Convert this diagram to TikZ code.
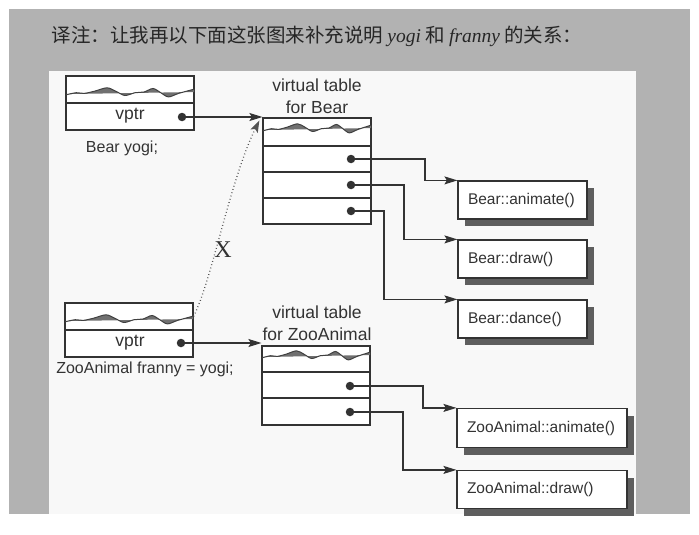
\documentclass[tikz,border=0pt]{standalone}
\usepackage{fontspec}
\setmainfont{Liberation Sans}
\newfontfamily\cjk{Noto Sans CJK SC}
\newfontfamily\tmsserif{Liberation Serif}
\usetikzlibrary{arrows.meta,shadows,calc}
\definecolor{bggray}{HTML}{B2B2B2}
\definecolor{panelc}{HTML}{F8F8F8}
\definecolor{linec}{HTML}{333333}
\definecolor{shadowc}{HTML}{5E5E5E}
\definecolor{wavec}{HTML}{404040}
\newcommand\mywave[3]{%
\begin{scope}[shift={(#1,#2)},xscale=#3/100,yscale=1.4]
 \fill[wavec!75] plot[smooth] coordinates {(0,2)(8,0.5)(14,1)(22,-0.5)(32,-3)(39,-0.5)(46,2.5)(54,0.5)(61,0)(68,-2.5)(74,0.5)(80,3.5)(88,1)(100,-2)} -- (100,0) -- (0,1.5) -- cycle;
 \draw[wavec,line width=1pt] plot[smooth] coordinates {(0,2)(8,0.5)(14,1)(22,-0.5)(32,-3)(39,-0.5)(46,2.5)(54,0.5)(61,0)(68,-2.5)(74,0.5)(80,3.5)(88,1)(100,-2)};
\end{scope}}
\begin{document}
\begin{tikzpicture}[x=1pt,y=-1pt,
  every node/.style={text=linec},
  objbox/.style={draw=linec,line width=1.2pt,fill=white,minimum width=128pt,minimum height=54pt,inner sep=0pt},
  vtbox/.style={draw=linec,line width=1.2pt,fill=white,minimum width=108pt,inner sep=0pt},
  fnbox/.style={draw=linec,line width=1.2pt,fill=white,inner xsep=10pt,inner ysep=0pt,
     align=left,font=\fontsize{15.5}{18}\selectfont,
     general shadow={fill=shadowc,shadow xshift=7pt,shadow yshift=-7pt}},
  dot/.style={circle,fill=linec,minimum size=8.5pt,inner sep=0pt},
  vttitle/.style={align=center,font=\fontsize{17.5}{22}\selectfont},
  lbl/.style={font=\fontsize{16}{19}\selectfont},
  conn/.style={draw=linec,line width=1.2pt,-{Stealth[length=13pt,width=8pt,inset=2.5pt]}},
  dotarr/.style={draw=linec!85,line width=1.3pt,dash pattern=on 0.8pt off 2.6pt,-{Stealth[length=12pt,width=8pt,inset=2.5pt]}}
]
\useasboundingbox (0,0) rectangle (699,535);
\fill[white] (0,0) rectangle (699,535);
\fill[bggray] (9,9) rectangle (690,514);
\fill[panelc] (49,71) rectangle (636,514);

% title
\node[anchor=west,text=black!85,font=\fontsize{19.5}{22}\selectfont] (title) at (48,36)
  {\cjk 译注：让我再以下面这张图来补充说明 {\tmsserif\itshape yogi} 和 {\tmsserif\itshape franny} 的关系：};

% yogi object
\node[objbox] (yogi) at (130,103) {};
\draw[linec,line width=1.2pt] (yogi.west) -- (yogi.east);
\mywave{66}{92}{128}
\node[font=\fontsize{17.5}{20}\selectfont] (yv) at (130,116) {vptr};
\node[dot] (yd) at (182,117) {};
\node[lbl] (ly) at (122,148) {Bear yogi;};

% vtable for Bear
\node[vttitle] (tB) at (317,96) {virtual table\\for Bear};
\node[vtbox,minimum height=106pt] (vtB) at (317,171) {};
\draw[linec,line width=1.2pt] (263,146) -- (371,146) (263,172) -- (371,172) (263,198) -- (371,198);
\mywave{263}{128}{108}
\node[dot] (bd1) at (351,159) {};
\node[dot] (bd2) at (351,185) {};
\node[dot] (bd3) at (351,211) {};

% Bear functions
\node[fnbox,text width=109pt,minimum height=38pt] (bA) at (522.5,200) {Bear::animate()};
\node[fnbox,text width=109pt,minimum height=38pt] (bD) at (522.5,259) {Bear::draw()};
\node[fnbox,text width=109pt,minimum height=38pt] (bN) at (522.5,319) {Bear::dance()};

% franny object
\node[objbox] (fr) at (129,330) {};
\draw[linec,line width=1.2pt] (fr.west) -- (fr.east);
\mywave{65}{319}{128}
\node[font=\fontsize{17.5}{20}\selectfont] (fv) at (130,343) {vptr};
\node[dot] (fd) at (181,343) {};
\node[lbl] (lf) at (145,369) {ZooAnimal franny = yogi;};

% vtable for ZooAnimal
\node[vttitle] (tZ) at (317,323) {virtual table\\for ZooAnimal};
\node[vtbox,minimum height=79pt] (vtZ) at (316,385.5) {};
\draw[linec,line width=1.2pt] (262,372) -- (370,372) (262,398) -- (370,398);
\mywave{262}{355}{108}
\node[dot] (zd1) at (350,386) {};
\node[dot] (zd2) at (350,412) {};

% ZooAnimal functions
\node[fnbox,text width=150pt,minimum height=39pt] (zA) at (542,428) {ZooAnimal::animate()};
\node[fnbox,text width=150pt,minimum height=38pt] (zD) at (542,489.5) {ZooAnimal::draw()};

% connectors
\draw[conn] (yd.center) -- (yd.center -| vtB.west);
\draw[conn] (fd.center) -- (fd.center -| vtZ.west);
\draw[conn] (bd1.center) -- ++(74,0) |- (bA.north west);
\draw[conn] (bd2.center) -- ++(53,0) |- (bD.north west);
\draw[conn] (bd3.center) -- ++(33,0) |- (bN.north west);
\draw[conn] (zd1.center) -- ++(73,0) |- (zA.north west);
\draw[conn] (zd2.center) -- ++(53,0) |- (zD.north west);

% dotted assignment arrow
\draw[dotarr] ([yshift=-14pt]fr.north east) .. controls (212,280) and (230,180) .. ([shift={(-3pt,-3pt)}]vtB.north west);
\node[font=\tmsserif\fontsize{24}{26}\selectfont] (xl) at (223,250) {X};
\end{tikzpicture}
\end{document}
